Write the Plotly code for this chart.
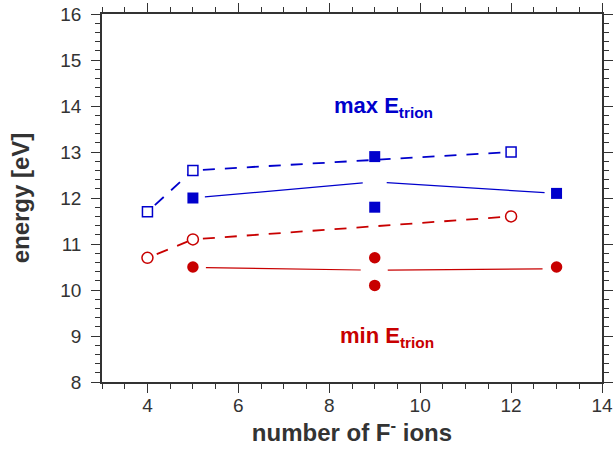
import plotly.graph_objects as go
import math

# ---------------- data ----------------
open_sq_x = [4, 5, 12]
open_sq_y = [11.7, 12.6, 13.0]          # max E_trion (dashed)
filled_sq_x = [5, 9, 9, 13]
filled_sq_y = [12.0, 12.9, 11.8, 12.1]  # max E_trion (solid)
blue_line_x = [5, 9, 13]
blue_line_y = [12.0, 12.35, 12.1]

open_ci_x = [4, 5, 12]
open_ci_y = [10.7, 11.1, 11.6]          # min E_trion (dashed)
filled_ci_x = [5, 9, 9, 13]
filled_ci_y = [10.5, 10.7, 10.1, 10.5]  # min E_trion (solid)
red_line_x = [5, 9, 13]
red_line_y = [10.49, 10.43, 10.46]

x_range = [3, 14]
y_range = [8, 16]

BLUE = "#0000CC"
RED = "#C80000"
AXIS = "#333333"

W, H = 614, 453
M = dict(l=102, r=12, t=14, b=71)
px_x = (W - M["l"] - M["r"]) / (x_range[1] - x_range[0])
px_y = (H - M["t"] - M["b"]) / (y_range[1] - y_range[0])


def shrink(x0, y0, x1, y1, g0, g1):
    dxp = (x1 - x0) * px_x
    dyp = (y1 - y0) * px_y
    L = math.hypot(dxp, dyp)
    f0, f1 = g0 / L, g1 / L
    return ([x0 + (x1 - x0) * f0, x1 - (x1 - x0) * f1],
            [y0 + (y1 - y0) * f0, y1 - (y1 - y0) * f1])


fig = go.Figure()


def add_segments(xs, ys, color, width, dash, g0, g1):
    for i in range(len(xs) - 1):
        sx, sy = shrink(xs[i], ys[i], xs[i + 1], ys[i + 1], g0, g1)
        fig.add_trace(go.Scatter(x=sx, y=sy, mode="lines",
                                 line=dict(color=color, width=width, dash=dash),
                                 showlegend=False, hoverinfo="skip"))


add_segments(open_sq_x, open_sq_y, BLUE, 1.8, "12px,10px", 10, 6)
add_segments(open_ci_x, open_ci_y, RED, 1.8, "12px,10px", 10, 6)
add_segments(blue_line_x, blue_line_y, BLUE, 1.2, "solid", 12, 12)
add_segments(red_line_x, red_line_y, RED, 1.2, "solid", 13, 14)

fig.add_trace(go.Scatter(x=open_sq_x, y=open_sq_y, mode="markers",
                         marker=dict(symbol="square", size=10, color="white",
                                     line=dict(color=BLUE, width=1.5)),
                         showlegend=False))
fig.add_trace(go.Scatter(x=filled_sq_x, y=filled_sq_y, mode="markers",
                         marker=dict(symbol="square", size=11, color=BLUE,
                                     line=dict(width=0)),
                         showlegend=False))
fig.add_trace(go.Scatter(x=open_ci_x, y=open_ci_y, mode="markers",
                         marker=dict(symbol="circle", size=11, color="white",
                                     line=dict(color=RED, width=1.5)),
                         showlegend=False))
fig.add_trace(go.Scatter(x=filled_ci_x, y=filled_ci_y, mode="markers",
                         marker=dict(symbol="circle", size=11.5, color=RED,
                                     line=dict(width=0)),
                         showlegend=False))

fig.add_annotation(x=9.2, y=13.98, text="max E<sub>trion</sub>", showarrow=False,
                   font=dict(family="Liberation Sans, Arial", size=22, color=BLUE, weight="bold"))
fig.add_annotation(x=9.28, y=8.98, text="min E<sub>trion</sub>", showarrow=False,
                   font=dict(family="Liberation Sans, Arial", size=22, color=RED, weight="bold"))

axis_common = dict(showgrid=False, zeroline=False, showline=True, linecolor=AXIS,
                   linewidth=1.5, mirror="allticks", ticks="outside", ticklen=9,
                   tickwidth=1.3, tickcolor=AXIS, automargin=False,
                   tickfont=dict(family="Liberation Sans, Arial", size=19, color=AXIS))

fig.update_xaxes(range=x_range, tick0=0, dtick=2, ticklabelstandoff=-4,
                 minor=dict(dtick=0.5, ticks="outside", ticklen=5, tickwidth=1.3, tickcolor=AXIS),
                 title=dict(text="number of F<sup>-</sup> ions", standoff=2,
                            font=dict(family="Liberation Sans, Arial", size=24, color=AXIS, weight="bold")),
                 **axis_common)
fig.update_yaxes(range=y_range, tick0=0, dtick=1, ticklabelstandoff=6,
                 minor=dict(dtick=0.2, ticks="outside", ticklen=5, tickwidth=1.3, tickcolor=AXIS),
                 title=dict(text="energy [eV]", standoff=24,
                            font=dict(family="Liberation Sans, Arial", size=24, color=AXIS, weight="bold")),
                 **axis_common)

fig.update_layout(width=W, height=H, margin=M, plot_bgcolor="white", paper_bgcolor="white",
                  showlegend=False)

fig.write_html("out.html")
